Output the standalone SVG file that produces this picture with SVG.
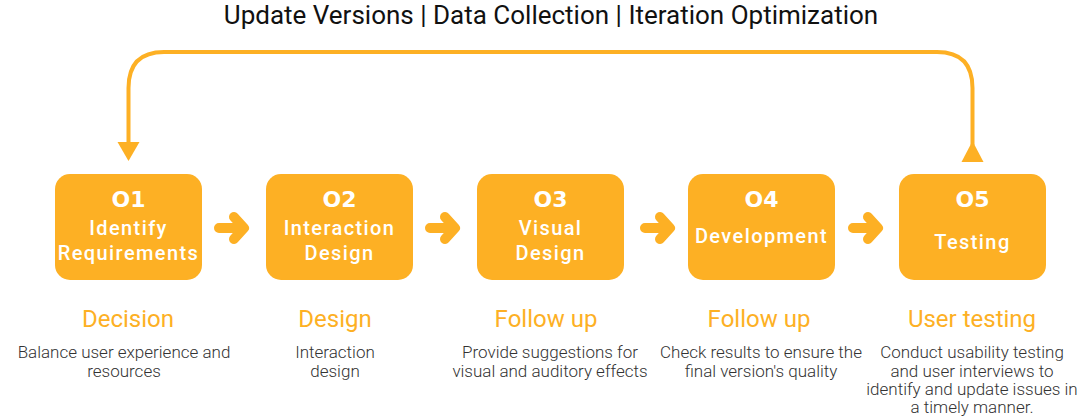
<svg xmlns="http://www.w3.org/2000/svg" width="1080" height="418" viewBox="0 0 1080 418">
<style>
.box{fill:#FDB024}
.num{font-family:"DejaVu Sans",sans-serif;font-weight:bold;font-size:22px;fill:#fff;text-anchor:middle}
.lbl{font-family:Roboto,"Liberation Sans",sans-serif;font-weight:500;font-size:20px;fill:#fff;text-anchor:middle;letter-spacing:1.4px}
.head{font-family:Roboto,"Liberation Sans",sans-serif;font-size:24px;fill:#FDB024;text-anchor:middle}
.desc{font-family:Roboto,"Liberation Sans",sans-serif;font-weight:300;font-size:17px;fill:#333;text-anchor:middle}
.title{font-family:Roboto,"Liberation Sans",sans-serif;font-size:26px;fill:#111;text-anchor:middle}
.step{fill:none;stroke:#FDB024;stroke-width:10;stroke-linecap:round;stroke-linejoin:round}
.loop{fill:none;stroke:#FDB024;stroke-width:4}
</style>
<text class="title" x="551" y="24">Update Versions | Data Collection | Iteration Optimization</text>
<g id="connectors">
<path class="loop" d="M972.5 145 V88 Q972.5 52 937 52 H164 Q128.5 52 128.5 88 V145"/>
<polygon points="117.5,142 139.5,142 128.5,161" fill="#FDB024"/>
<polygon points="961.5,162 983.5,162 972.5,141" fill="#FDB024"/>
<path class="step" d="M219 228 H243 M234 217 L244 228 L234 239"/>
<path class="step" d="M430 228 H454 M445 217 L455 228 L445 239"/>
<path class="step" d="M645 228 H669 M660 217 L670 228 L660 239"/>
<path class="step" d="M853 228 H877 M868 217 L878 228 L868 239"/>
</g>
<g id="n1">
<rect class="box" x="55" y="174" width="147" height="106" rx="15"/>
<text class="num" x="128.5" y="207">O1</text>
<text class="lbl" x="128.5" y="235">Identify</text>
<text class="lbl" x="128.5" y="260">Requirements</text>
</g>
<g id="n2">
<rect class="box" x="266" y="174" width="147" height="106" rx="15"/>
<text class="num" x="339.5" y="207">O2</text>
<text class="lbl" x="339.5" y="235">Interaction</text>
<text class="lbl" x="339.5" y="260">Design</text>
</g>
<g id="n3">
<rect class="box" x="477" y="174" width="147" height="106" rx="15"/>
<text class="num" x="550.5" y="207">O3</text>
<text class="lbl" x="550.5" y="235">Visual</text>
<text class="lbl" x="550.5" y="260">Design</text>
</g>
<g id="n4">
<rect class="box" x="688" y="174" width="147" height="106" rx="15"/>
<text class="num" x="761.5" y="207">O4</text>
<text class="lbl" x="761.5" y="243">Development</text>
</g>
<g id="n5">
<rect class="box" x="899" y="174" width="147" height="106" rx="15"/>
<text class="num" x="972.5" y="207">O5</text>
<text class="lbl" x="972.5" y="249">Testing</text>
</g>
<g id="c1">
<text class="head" x="128" y="327">Decision</text>
<text class="desc" x="124" y="358">Balance user experience and</text>
<text class="desc" x="124" y="377">resources</text>
</g>
<g id="c2">
<text class="head" x="335" y="327">Design</text>
<text class="desc" x="335" y="358">Interaction</text>
<text class="desc" x="335" y="377">design</text>
</g>
<g id="c3">
<text class="head" x="546" y="327">Follow up</text>
<text class="desc" x="550" y="358">Provide suggestions for</text>
<text class="desc" x="550" y="377">visual and auditory effects</text>
</g>
<g id="c4">
<text class="head" x="759" y="327">Follow up</text>
<text class="desc" x="761" y="358">Check results to ensure the</text>
<text class="desc" x="761" y="377">final version's quality</text>
</g>
<g id="c5">
<text class="head" x="972" y="327">User testing</text>
<text class="desc" x="972" y="358">Conduct usability testing</text>
<text class="desc" x="972" y="377">and user interviews to</text>
<text class="desc" x="972" y="395">identify and update issues in</text>
<text class="desc" x="972" y="413">a timely manner.</text>
</g>
</svg>
